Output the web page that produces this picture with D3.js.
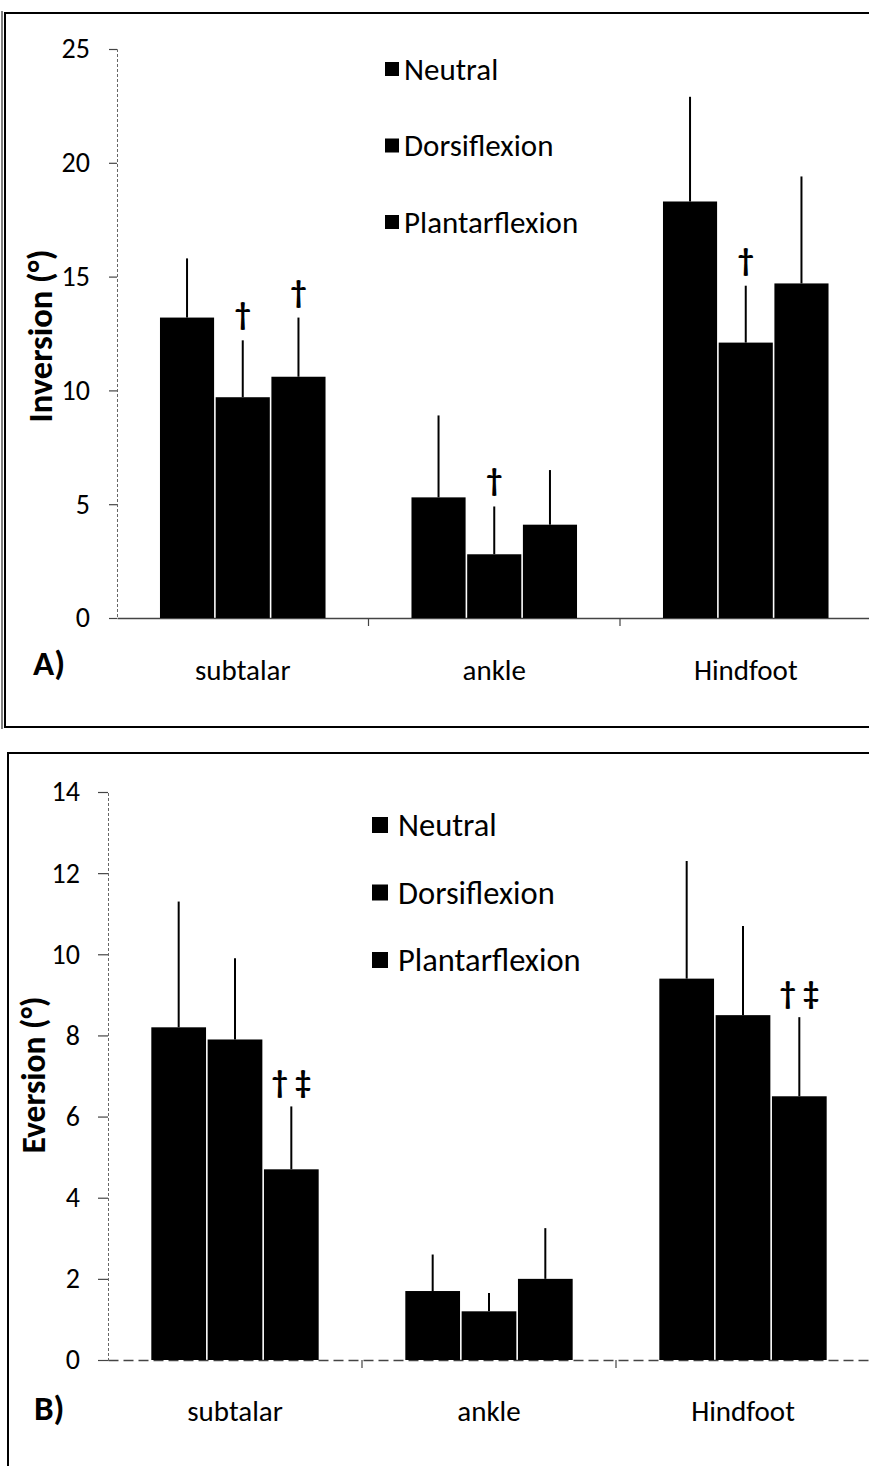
<!DOCTYPE html>
<html>
<head>
<meta charset="utf-8">
<script src="https://cdn.jsdelivr.net/npm/d3@7/dist/d3.min.js"></script>
<style>
  html, body { margin: 0; padding: 0; background: #fff; }
  svg { display: block; }
  text { font-family: Carlito, Lato, "Open Sans", sans-serif; fill: #000; }
</style>
</head>
<body>
<svg id="chart" width="869" height="1466"></svg>
<script>
// ---------- data ----------
const categories = ["subtalar", "ankle", "Hindfoot"];
const seriesNames = ["Neutral", "Dorsiflexion", "Plantarflexion"];

// Panel A: inversion (degrees)
const invNeutral      = [13.2, 5.3, 18.3];
const invDorsi        = [9.7, 2.8, 12.1];
const invPlantar      = [10.6, 4.1, 14.7];
const invNeutralSD    = [2.6, 3.6, 4.6];
const invDorsiSD      = [2.5, 2.1, 2.5];
const invPlantarSD    = [2.6, 2.4, 4.7];
const invMarksNeutral = ["", "", ""];
const invMarksDorsi   = ["†", "†", "†"];
const invMarksPlantar = ["†", "", ""];
const invTicks = [0, 5, 10, 15, 20, 25];

// Panel B: eversion (degrees)
const evNeutral      = [8.2, 1.7, 9.4];
const evDorsi        = [7.9, 1.2, 8.5];
const evPlantar      = [4.7, 2.0, 6.5];
const evNeutralSD    = [3.1, 0.9, 2.9];
const evDorsiSD      = [2.0, 0.45, 2.2];
const evPlantarSD    = [1.55, 1.25, 1.95];
const evMarksNeutral = ["", "", ""];
const evMarksDorsi   = ["", "", ""];
const evMarksPlantar = ["† ‡", "", "† ‡"];
const evTicks = [0, 2, 4, 6, 8, 10, 12, 14];

// ---------- drawing ----------
const svg = d3.select("#chart");
svg.append("rect").attr("width", 869).attr("height", 1466).attr("fill", "#fff");

function drawPanel(cfg) {
  const g = svg.append("g");
  cfg.frame(g);

  const y = d3.scaleLinear().domain(cfg.domain).range([cfg.y0, cfg.yTop]);
  const x0 = d3.scaleBand().domain(categories).range([cfg.xAxis, cfg.xAxis + 3 * cfg.band]);
  const x1 = d3.scaleBand().domain(seriesNames).range([0, x0.bandwidth()])
    .paddingInner(0).paddingOuter(cfg.outerPad);

  // y axis
  const yAxis = d3.axisLeft(y).tickValues(cfg.ticks).tickSize(cfg.tickLen).tickPadding(cfg.tickPad);
  const ya = g.append("g").attr("transform", `translate(${cfg.xAxis},0)`).call(yAxis);
  ya.select(".domain").attr("stroke", "#666").attr("stroke-width", 1).attr("stroke-dasharray", "3,2");
  ya.selectAll(".tick line").attr("stroke", "#444").attr("stroke-width", 1.2);
  ya.selectAll(".tick text").attr("font-size", cfg.tickFont).attr("fill", "#000")
    .style("font-family", "Carlito, Lato, sans-serif");

  // x axis
  const xa = g.append("g").attr("transform", `translate(0,${cfg.y0})`)
    .call(d3.axisBottom(x0).tickSize(0).tickPadding(cfg.catPad));
  xa.select(".domain").attr("stroke", "#444").attr("stroke-width", 1.4)
    .attr("stroke-dasharray", cfg.xDash);
  xa.selectAll(".tick text").attr("font-size", cfg.catFont).attr("fill", "#000")
    .style("font-family", "Carlito, Lato, sans-serif");
  g.selectAll(".bt").data(categories.slice(1)).enter().append("line")
    .attr("x1", d => x0(d)).attr("x2", d => x0(d))
    .attr("y1", cfg.y0).attr("y2", cfg.y0 + 8)
    .attr("stroke", "#444").attr("stroke-width", 1.2);

  // bars, error bars, markers
  cfg.series.forEach((s, si) => {
    const name = seriesNames[si];
    const gs = g.append("g");
    const rows = categories.map((c, ci) => ({ c, v: s.mean[ci], sd: s.sd[ci], m: s.marks[ci] }));
    gs.selectAll("rect").data(rows).enter().append("rect")
      .attr("x", d => x0(d.c) + x1(name) + 0.8)
      .attr("width", x1.bandwidth() - 1.6)
      .attr("y", d => y(d.v))
      .attr("height", d => y(0) - y(d.v))
      .attr("fill", "#000");
    gs.selectAll("line").data(rows).enter().append("line")
      .attr("x1", d => x0(d.c) + x1(name) + x1.bandwidth() / 2)
      .attr("x2", d => x0(d.c) + x1(name) + x1.bandwidth() / 2)
      .attr("y1", d => y(d.v))
      .attr("y2", d => y(d.v + d.sd))
      .attr("stroke", "#000").attr("stroke-width", 2);
    gs.selectAll("text").data(rows.filter(d => d.m)).enter().append("text")
      .attr("x", d => x0(d.c) + x1(name) + x1.bandwidth() / 2)
      .attr("y", d => y(d.v + d.sd) - cfg.markGap)
      .attr("text-anchor", "middle")
      .attr("font-size", cfg.markFont)
      .attr("font-weight", "bold")
      .text(d => d.m);
  });

  // legend
  const lg = g.append("g");
  seriesNames.forEach((n, i) => {
    const cy = cfg.legY + i * cfg.legStep;
    lg.append("rect").attr("x", cfg.legX).attr("y", cy - cfg.legSq / 2)
      .attr("width", cfg.legSq).attr("height", cfg.legSq).attr("fill", "#000");
    lg.append("text").attr("x", cfg.legX + cfg.legSq + cfg.legTextGap).attr("y", cy)
      .attr("dy", "0.35em").attr("font-size", cfg.legFont).text(n);
  });

  // y title
  g.append("text")
    .attr("transform", `translate(${cfg.titleX},${cfg.titleY}) rotate(-90)`)
    .attr("text-anchor", "middle").attr("dy", "0.35em")
    .attr("font-size", cfg.titleFont).attr("font-weight", "bold")
    .text(cfg.title);

  // panel label
  g.append("text").attr("x", cfg.labX).attr("y", cfg.labY)
    .attr("font-size", cfg.labFont).attr("font-weight", "bold").text(cfg.label);
}

drawPanel({
  frame: g => {
    g.append("rect").attr("x", 5).attr("y", 13).attr("width", 900).attr("height", 714)
      .attr("fill", "none").attr("stroke", "#000").attr("stroke-width", 2);
    g.append("line").attr("x1", 2).attr("x2", 2).attr("y1", 11).attr("y2", 729)
      .attr("stroke", "#000").attr("stroke-width", 1);
  },
  domain: [0, 25], y0: 618, yTop: 49,
  xAxis: 117, band: 251.5, outerPad: 0.757,
  ticks: invTicks, tickLen: 8, tickPad: 19, tickFont: 28,
  catPad: 41, catFont: 29, xDash: null,
  series: [
    { mean: invNeutral, sd: invNeutralSD, marks: invMarksNeutral },
    { mean: invDorsi, sd: invDorsiSD, marks: invMarksDorsi },
    { mean: invPlantar, sd: invPlantarSD, marks: invMarksPlantar }
  ],
  markGap: 15, markFont: 32,
  legX: 385, legY: 69, legStep: 76.5, legSq: 14, legTextGap: 5, legFont: 31,
  title: "Inversion (°)", titleX: 40, titleY: 336, titleFont: 34.5,
  label: "A)", labX: 33, labY: 675, labFont: 35
});

drawPanel({
  frame: g => {
    g.append("rect").attr("x", 8).attr("y", 753).attr("width", 900).attr("height", 800)
      .attr("fill", "none").attr("stroke", "#000").attr("stroke-width", 2);
  },
  domain: [0, 14], y0: 1360, yTop: 792,
  xAxis: 108, band: 254, outerPad: 0.755,
  ticks: evTicks, tickLen: 10, tickPad: 18, tickFont: 28,
  catPad: 40, catFont: 29, xDash: "10,5",
  series: [
    { mean: evNeutral, sd: evNeutralSD, marks: evMarksNeutral },
    { mean: evDorsi, sd: evDorsiSD, marks: evMarksDorsi },
    { mean: evPlantar, sd: evPlantarSD, marks: evMarksPlantar }
  ],
  markGap: 13, markFont: 32,
  legX: 372, legY: 825, legStep: 67.5, legSq: 16, legTextGap: 10, legFont: 32.5,
  title: "Eversion (°)", titleX: 33, titleY: 1075, titleFont: 33.5,
  label: "B)", labX: 34, labY: 1420, labFont: 35
});
</script>
</body>
</html>
